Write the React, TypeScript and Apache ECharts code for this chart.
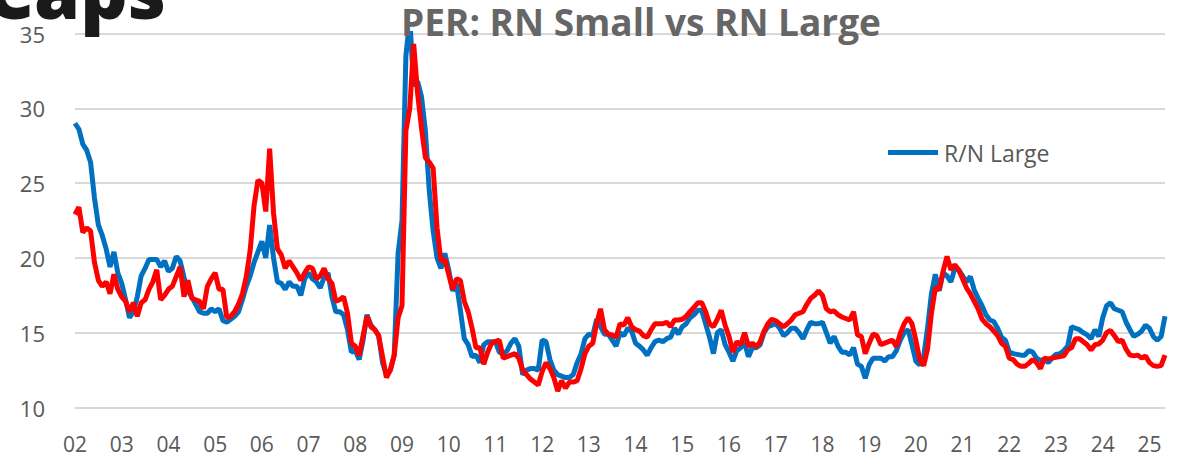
import React, { useEffect, useRef } from "react";
import * as echarts from "echarts";

const yearLabels = ["02","03","04","05","06","07","08","09","10","11","12","13","14","15","16","17","18","19","20","21","22","23","24","25"];
const monthLabels = ["01","02","03","04","05","06","07","08","09","10","11","12"];

const largeCaps = [
  29.0, 28.6, 27.6, 27.2, 26.4, 24.0, 22.2, 21.5, 20.6, 19.4,
  20.4, 19.0, 18.3, 17.2, 16.0, 16.4, 17.4, 18.8, 19.3, 19.9,
  19.9, 19.9, 19.4, 19.8, 19.1, 19.3, 20.1, 19.8, 18.7, 17.8,
  17.4, 16.9, 16.4, 16.3, 16.3, 16.6, 16.4, 16.6, 15.8, 15.7,
  15.9, 16.1, 16.4, 17.2, 18.1, 18.8, 19.7, 20.4, 21.1, 20.0,
  22.2, 20.0, 18.4, 18.3, 17.9, 18.4, 18.1, 18.1, 17.5, 18.6,
  19.0, 18.6, 18.4, 18.0, 18.7, 19.0, 17.4, 16.4, 16.4, 16.2,
  15.2, 13.7, 13.8, 13.2, 14.5, 16.2, 15.5, 15.2, 14.8, 13.0,
  12.2, 12.5, 13.5, 20.3, 22.5, 33.5, 36.0, 31.5, 31.8, 30.8,
  28.5, 24.5, 21.8, 20.0, 19.3, 20.3, 19.2, 17.8, 18.3, 16.5,
  14.6, 14.2, 13.4, 13.5, 13.0, 14.2, 14.4, 14.4, 14.4, 13.7,
  13.6, 13.8, 14.3, 14.6, 14.1, 12.2, 12.5, 12.6, 12.6, 12.5,
  14.5, 14.4, 13.2, 12.5, 12.2, 12.1, 12.0, 12.0, 12.2, 13.0,
  13.6, 14.6, 14.9, 14.8, 15.9, 15.4, 14.9, 14.9, 14.5, 14.1,
  15.0, 14.8, 15.3, 15.1, 14.3, 14.1, 13.85, 13.5, 14.0, 14.4,
  14.5, 14.4, 14.6, 14.7, 15.3, 14.9, 15.4, 15.6, 16.0, 16.2,
  16.5, 16.5, 15.6, 14.7, 13.6, 15.0, 15.2, 14.2, 13.7, 13.1,
  13.8, 14.0, 14.3, 13.4, 14.0, 14.0, 14.2, 15.0, 15.4, 15.5,
  15.6, 15.3, 14.8, 15.0, 15.3, 15.3, 15.0, 14.6, 15.2, 15.7,
  15.6, 15.6, 15.7, 15.0, 14.3, 14.75, 14.1, 13.7, 13.7, 13.5,
  14.0, 12.9, 12.75, 11.95, 12.85, 13.3, 13.3, 13.3, 13.1, 13.4,
  13.4, 13.8, 14.5, 15.0, 15.2, 14.2, 13.1, 12.85, 13.4, 15.3,
  17.6, 18.9, 17.8, 19.0, 18.8, 18.4, 19.3, 19.2, 18.8, 18.4,
  18.75, 17.85, 17.3, 16.8, 16.2, 15.85, 15.75, 15.3, 14.7, 14.5,
  13.7, 13.6, 13.55, 13.5, 13.5, 13.8, 13.7, 13.3, 13.15, 13.2,
  13.0, 13.3, 13.55, 13.6, 13.8, 14.1, 15.4, 15.3, 15.2, 15.0,
  14.85, 14.6, 15.2, 14.75, 16.0, 16.8, 17.0, 16.6, 16.5, 16.4,
  15.7, 15.2, 14.75, 14.9, 15.1, 15.5, 15.3, 14.75, 14.5, 14.75, 16.1,
];

const smallCaps = [
  22.9, 23.4, 21.7, 22.0, 21.8, 19.7, 18.5, 18.1, 18.4, 17.6,
  18.9, 17.9, 17.4, 17.1, 16.4, 17.0, 16.1, 17.0, 17.2, 17.9,
  18.4, 19.2, 17.2, 17.5, 17.9, 18.1, 18.75, 19.4, 17.4, 18.5,
  17.3, 17.2, 17.1, 16.6, 18.1, 18.6, 19.0, 17.9, 17.9, 16.0,
  16.1, 16.4, 16.9, 17.6, 18.75, 20.5, 23.5, 25.2, 25.0, 23.1,
  27.3, 23.0, 20.6, 20.2, 19.3, 19.8, 19.4, 19.0, 18.5, 19.0,
  19.4, 19.3, 18.6, 18.8, 19.3, 18.6, 18.3, 17.1, 17.2, 17.4,
  16.3, 14.3, 14.1, 13.5, 14.8, 16.1, 15.4, 15.2, 14.8, 13.4,
  12.0, 12.5, 13.5, 16.0, 16.8, 28.5, 30.0, 34.3, 31.0, 28.7,
  26.7, 26.4, 26.0, 22.0, 19.8, 19.9, 18.9, 17.9, 18.6, 18.5,
  17.1, 16.4, 15.3, 14.0, 14.0, 12.9, 13.7, 14.3, 14.4, 14.5,
  13.3, 13.4, 13.5, 13.6, 13.3, 12.5, 12.2, 11.9, 11.7, 11.5,
  12.4, 13.0, 12.6, 12.0, 11.1, 11.8, 11.3, 11.7, 11.7, 11.8,
  12.6, 13.6, 14.1, 14.3, 15.6, 16.6, 15.2, 14.9, 14.85, 14.7,
  15.6, 15.5, 16.0, 15.4, 15.2, 15.1, 14.8, 14.7, 15.2, 15.6,
  15.6, 15.6, 15.7, 15.4, 15.85, 15.85, 15.9, 16.1, 16.4, 16.7,
  17.0, 17.0, 16.4, 15.6, 15.4, 15.9, 16.5, 15.5, 14.75, 13.7,
  14.4, 14.2, 15.0, 14.1, 14.3, 14.05, 14.4, 15.1, 15.6, 15.9,
  15.8, 15.6, 15.4, 15.6, 15.85, 16.2, 16.3, 16.4, 16.9, 17.3,
  17.5, 17.8, 17.5, 16.6, 16.4, 16.45, 16.2, 16.05, 15.95, 15.85,
  16.4, 14.85, 14.75, 13.6, 14.3, 14.9, 14.8, 14.2, 14.3, 14.4,
  14.5, 14.07, 14.95, 15.6, 16.0, 15.6, 14.5, 13.2, 12.8, 13.9,
  16.3, 18.0, 17.9, 19.1, 20.1, 19.2, 19.55, 19.2, 18.6, 18.0,
  17.6, 17.1, 16.6, 15.9, 15.6, 15.4, 15.1, 14.8, 14.3, 14.1,
  13.3, 13.2, 12.9, 12.75, 12.75, 12.95, 13.2, 13.0, 12.6, 13.3,
  13.25, 13.3, 13.35, 13.4, 13.45, 13.85, 14.0, 14.6, 14.6, 14.4,
  14.2, 13.85, 14.2, 14.25, 14.5, 15.0, 15.15, 14.8, 14.4, 14.5,
  13.9, 13.5, 13.45, 13.5, 13.3, 13.45, 13.0, 12.8, 12.75, 12.8, 13.5,
];

const categories = yearLabels
  .flatMap((y) => monthLabels.map((m) => `${y}-${m}`))
  .slice(0, largeCaps.length);

const FONT = "'Open Sans', 'Noto Sans', sans-serif";

export default function App() {
  const ref = useRef<HTMLDivElement>(null);

  useEffect(() => {
    if (!ref.current) return;
    const chart = echarts.init(ref.current, undefined, { renderer: "svg" });
    chart.setOption({
      animation: false,
      backgroundColor: "#ffffff",
      title: {
        text: "PER: RN Small vs RN Large",
        left: 396,
        top: -2,
        textStyle: { fontFamily: FONT, fontSize: 37, fontWeight: "bold", color: "#666666" },
      },
      graphic: [
        {
          type: "text",
          left: -14,
          top: -47,
          style: {
            text: "Caps",
            fontFamily: FONT,
            fontSize: 74,
            fontWeight: 800,
            fill: "#1a1a1a",
          },
          z: 100,
        },
      ],
      legend: {
        data: ["R/N Large"],
        left: 883,
        top: 136,
        icon: "rect",
        itemWidth: 50,
        itemHeight: 5,
        itemGap: 10,
        textStyle: { fontFamily: FONT, fontSize: 23, color: "#595959", padding: [0, 0, 0, 1] },
      },
      grid: { left: 75, right: 37, top: 33.5, bottom: 48.5, containLabel: false },
      xAxis: {
        type: "category",
        data: categories,
        boundaryGap: false,
        axisLine: { show: false },
        axisTick: { show: false },
        axisLabel: {
          interval: (index: number, value: string) => value.endsWith("-01"),
          formatter: (value: string) => value.slice(0, 2),
          fontFamily: FONT,
          fontSize: 21,
          color: "#595959",
          margin: 26,
        },
        splitLine: { show: false },
      },
      yAxis: {
        type: "value",
        min: 10,
        max: 35,
        interval: 5,
        axisLine: { show: false },
        axisTick: { show: false },
        axisLabel: { fontFamily: FONT, fontSize: 22, color: "#595959", margin: 30 },
        splitLine: { lineStyle: { color: "#d9d9d9", width: 2 } },
      },
      series: [
        {
          name: "R/N Large",
          type: "line",
          data: largeCaps,
          showSymbol: false,
          symbol: "none",
          lineStyle: { color: "#0070C0", width: 5 },
          itemStyle: { color: "#0070C0" },
          clip: true,
          z: 2,
        },
        {
          name: "R/N Small",
          type: "line",
          data: smallCaps,
          showSymbol: false,
          symbol: "none",
          lineStyle: { color: "#FF0000", width: 5 },
          itemStyle: { color: "#FF0000" },
          clip: true,
          z: 3,
        },
      ],
    });
    return () => chart.dispose();
  }, []);

  return (
    <div
      ref={ref}
      style={{ position: "absolute", left: 0, top: 0, width: 1202, height: 456 }}
    />
  );
}
